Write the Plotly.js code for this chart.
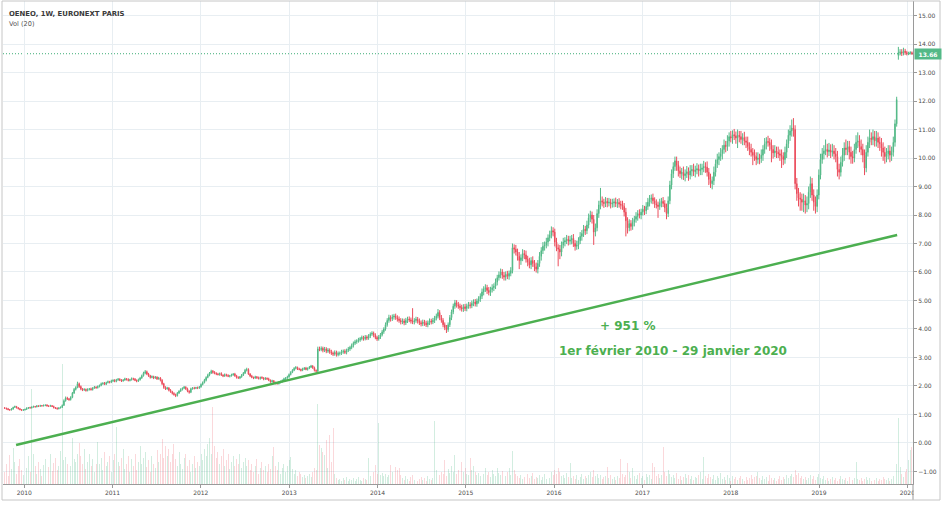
<!DOCTYPE html>
<html><head><meta charset="utf-8">
<script src="https://cdn.plot.ly/plotly-3.0.1.min.js"></script>
<style>html,body{margin:0;padding:0;background:#fff;overflow:hidden}#chart{width:943px;height:509px}</style>
</head><body><div id="chart"></div>
<script>
const firstWeek = '2009-10-12';
const weekOpen = [
1.23,1.22,1.20,1.17,1.16,1.19,1.25,1.28,1.24,1.20,
1.17,1.15,1.16,1.18,1.22,1.24,1.23,1.26,1.28,1.27,
1.30,1.29,1.31,1.30,1.32,1.33,1.30,1.29,1.31,1.28,
1.24,1.22,1.20,1.23,1.25,1.32,1.48,1.58,1.55,1.52,
1.60,1.75,1.88,1.95,2.08,1.98,1.90,1.86,1.88,1.84,
1.88,1.90,1.87,1.93,1.96,1.94,1.98,2.02,2.08,2.10,
2.06,2.12,2.15,2.13,2.18,2.20,2.16,2.22,2.24,2.20,
2.18,2.21,2.25,2.23,2.19,2.22,2.26,2.24,2.20,2.17,
2.22,2.28,2.36,2.45,2.50,2.42,2.36,2.30,2.33,2.28,
2.31,2.25,2.28,2.20,2.08,1.95,1.90,1.93,1.85,1.80,
1.74,1.70,1.66,1.75,1.82,1.88,1.92,1.96,1.90,1.82,
1.78,1.90,1.93,1.92,1.94,1.93,1.97,2.05,2.12,2.20,
2.30,2.38,2.45,2.52,2.48,2.45,2.42,2.40,2.44,2.38,
2.35,2.40,2.37,2.34,2.36,2.39,2.42,2.36,2.30,2.28,
2.32,2.38,2.45,2.55,2.58,2.42,2.35,2.30,2.28,2.32,
2.29,2.26,2.30,2.28,2.24,2.27,2.25,2.20,2.15,2.18,
2.12,2.10,2.08,2.13,2.15,2.20,2.25,2.28,2.32,2.40,
2.48,2.55,2.62,2.65,2.60,2.58,2.55,2.60,2.63,2.58,
2.62,2.66,2.70,2.64,2.55,2.52,3.30,3.28,3.32,3.25,
3.30,3.22,3.26,3.20,3.15,3.12,3.18,3.10,3.14,3.15,
3.20,3.22,3.18,3.25,3.30,3.35,3.42,3.50,3.55,3.58,
3.62,3.66,3.70,3.66,3.72,3.68,3.75,3.82,3.85,3.78,
3.70,3.65,3.72,3.80,3.90,4.00,4.15,4.30,4.40,4.36,
4.42,4.45,4.40,4.35,4.30,4.25,4.28,4.22,4.30,4.35,
4.32,4.28,4.25,4.30,4.34,4.28,4.22,4.18,4.24,4.20,
4.15,4.22,4.28,4.25,4.30,4.38,4.45,4.58,4.40,4.30,
4.15,4.05,3.98,4.15,4.40,4.60,4.80,4.92,4.85,4.80,
4.75,4.70,4.78,4.72,4.80,4.85,4.82,4.90,4.95,4.88,
4.98,5.05,5.15,5.30,5.40,5.45,5.35,5.28,5.38,5.45,
5.50,5.65,5.80,5.90,6.00,5.88,5.82,5.92,5.85,5.95,
6.05,6.85,6.80,6.70,6.55,6.40,6.50,6.65,6.60,6.45,
6.35,6.25,6.40,6.30,6.18,6.10,6.30,6.55,6.75,6.90,
6.95,7.05,7.20,7.30,7.45,7.40,7.05,6.85,6.80,6.70,
6.95,7.05,7.10,7.15,7.08,7.12,7.18,7.00,6.90,6.95,
7.10,7.25,7.35,7.50,7.45,7.65,7.90,8.00,7.85,7.40,
7.55,8.05,8.35,8.50,8.45,8.40,8.48,8.42,8.45,8.38,
8.42,8.46,8.40,8.44,8.38,8.35,8.30,8.10,7.80,7.55,
7.70,7.60,7.75,7.85,7.95,8.05,8.00,8.10,8.20,8.15,
8.30,8.45,8.55,8.60,8.50,8.40,8.35,8.30,8.42,8.48,
8.40,8.25,8.05,8.50,9.05,9.45,9.70,9.90,9.75,9.55,
9.45,9.50,9.38,9.45,9.52,9.40,9.55,9.60,9.52,9.58,
9.62,9.55,9.60,9.65,9.70,9.68,9.50,9.25,9.10,9.20,
9.50,9.80,9.95,10.05,10.15,10.30,10.45,10.40,10.60,10.75,
10.70,10.82,10.78,10.70,10.80,10.75,10.65,10.72,10.60,10.55,
10.40,10.30,10.20,10.10,10.05,9.95,10.00,9.98,10.10,10.30,
10.50,10.58,10.55,10.45,10.30,10.18,10.25,10.20,10.15,10.10,
10.05,9.95,10.20,10.50,10.80,10.95,11.05,11.00,9.10,8.75,
8.60,8.55,8.45,8.50,8.35,8.40,8.80,9.10,8.70,8.45,
8.30,8.70,9.40,9.95,10.15,10.25,10.30,10.22,10.28,10.20,
10.25,10.15,10.05,9.60,9.50,9.85,10.10,10.35,10.30,10.40,
10.20,10.05,10.00,10.30,10.55,10.60,10.40,10.30,10.10,9.65,
10.20,10.55,10.70,10.65,10.75,10.60,10.70,10.55,10.50,10.35,
10.20,10.05,10.15,10.25,10.10,10.20,10.55,11.20,13.60,13.70,
13.72,13.68,13.75,13.70,13.66,13.68,13.70];
const weekHigh = [
1.26,1.24,1.23,1.19,1.22,1.27,1.31,1.30,1.26,1.23,
1.19,1.19,1.20,1.25,1.26,1.27,1.28,1.31,1.30,1.33,
1.32,1.34,1.33,1.35,1.35,1.36,1.32,1.34,1.33,1.31,
1.26,1.25,1.25,1.28,1.35,1.53,1.63,1.62,1.58,1.64,
1.79,1.93,1.99,2.15,2.12,2.02,1.93,1.92,1.91,1.92,
1.93,1.94,1.96,2.00,1.99,2.02,2.05,2.12,2.13,2.14,
2.15,2.19,2.18,2.22,2.23,2.24,2.25,2.28,2.27,2.24,
2.24,2.29,2.28,2.27,2.25,2.30,2.29,2.28,2.23,2.26,
2.32,2.40,2.50,2.56,2.54,2.46,2.39,2.37,2.36,2.35,
2.34,2.32,2.31,2.24,2.11,1.99,1.97,1.96,1.89,1.83,
1.78,1.73,1.79,1.85,1.92,1.95,2.00,1.99,1.94,1.85,
1.94,1.96,1.97,1.97,1.98,2.00,2.09,2.16,2.25,2.34,
2.43,2.49,2.57,2.56,2.52,2.48,2.46,2.47,2.48,2.41,
2.44,2.43,2.41,2.39,2.43,2.45,2.46,2.39,2.34,2.35,
2.42,2.49,2.60,2.64,2.62,2.45,2.39,2.33,2.36,2.35,
2.33,2.33,2.34,2.31,2.31,2.30,2.29,2.23,2.22,2.21,
2.15,2.14,2.16,2.19,2.23,2.29,2.31,2.36,2.44,2.52,
2.59,2.66,2.70,2.68,2.64,2.61,2.64,2.66,2.67,2.65,
2.70,2.74,2.73,2.68,2.58,3.38,3.38,3.39,3.38,3.37,
3.36,3.33,3.32,3.27,3.21,3.25,3.24,3.21,3.21,3.27,
3.28,3.29,3.31,3.37,3.41,3.49,3.56,3.62,3.64,3.69,
3.72,3.77,3.76,3.79,3.78,3.82,3.88,3.92,3.91,3.85,
3.76,3.79,3.86,3.97,4.06,4.23,4.38,4.50,4.48,4.51,
4.53,4.54,4.48,4.44,4.38,4.37,4.36,4.39,4.43,4.44,
4.40,4.73,4.38,4.43,4.42,4.37,4.30,4.33,4.32,4.29,
4.30,4.37,4.36,4.39,4.46,4.54,4.70,4.66,4.49,4.38,
4.23,4.14,4.23,4.49,4.68,4.89,5.02,5.01,4.95,4.89,
4.85,4.87,4.88,4.89,4.95,4.94,5.00,5.04,5.05,5.07,
5.15,5.25,5.42,5.50,5.57,5.55,5.47,5.48,5.57,5.60,
5.77,5.90,6.02,6.12,6.10,6.00,6.02,6.04,6.05,6.17,
7.00,6.97,6.95,6.82,6.70,6.62,6.80,6.77,6.75,6.57,
6.50,6.52,6.55,6.42,6.33,6.42,6.70,6.87,7.05,7.07,
7.20,7.32,7.45,7.60,7.57,7.52,7.20,6.97,6.95,7.07,
7.20,7.22,7.30,7.27,7.27,7.30,7.33,7.12,7.10,7.22,
7.40,7.47,7.65,7.62,7.80,8.05,8.15,8.12,8.00,7.70,
8.20,8.50,8.95,8.65,8.57,8.63,8.60,8.60,8.57,8.57,
8.58,8.61,8.56,8.59,8.50,8.50,8.42,8.25,7.92,7.85,
7.82,7.90,7.97,8.10,8.17,8.20,8.22,8.35,8.32,8.45,
8.60,8.70,8.72,8.75,8.62,8.55,8.47,8.57,8.60,8.63,
8.52,8.40,8.65,9.20,9.60,9.85,10.05,10.05,9.90,9.70,
9.65,9.70,9.60,9.72,9.67,9.75,9.75,9.80,9.73,9.82,
9.77,9.80,9.80,9.90,9.85,9.88,9.65,9.45,9.35,9.70,
9.95,10.15,10.20,10.35,10.45,10.65,10.60,10.80,10.90,10.95,
10.97,11.02,10.93,11.00,10.95,10.95,10.87,10.92,10.75,10.75,
10.55,10.50,10.35,10.30,10.20,10.20,10.15,10.30,10.45,10.70,
10.73,10.78,10.70,10.65,10.45,10.45,10.40,10.40,10.30,10.30,
10.20,10.40,10.65,11.00,11.15,11.35,11.40,11.15,9.30,8.95,
8.80,8.75,8.75,8.70,8.65,9.00,9.35,9.30,8.90,8.65,
8.90,9.60,10.15,10.35,10.45,10.65,10.50,10.53,10.48,10.50,
10.45,10.35,10.25,9.80,10.05,10.35,10.55,10.65,10.60,10.60,
10.40,10.25,10.50,10.80,10.90,10.80,10.65,10.50,10.30,10.45,
10.75,11.00,10.90,11.00,10.95,10.95,10.90,10.75,10.70,10.55,
10.40,10.35,10.45,10.45,10.40,10.75,11.35,12.15,13.90,13.82,
13.82,13.87,13.83,13.76,13.73,13.75,13.74];
const weekLow = [
1.20,1.17,1.15,1.13,1.14,1.17,1.23,1.21,1.18,1.15,
1.12,1.13,1.14,1.16,1.19,1.21,1.21,1.24,1.24,1.25,
1.26,1.27,1.28,1.28,1.29,1.28,1.26,1.27,1.26,1.21,
1.19,1.17,1.18,1.21,1.23,1.30,1.45,1.51,1.48,1.49,
1.57,1.72,1.84,1.92,1.93,1.85,1.82,1.83,1.80,1.81,
1.84,1.84,1.84,1.90,1.90,1.91,1.95,1.99,2.04,2.03,
2.03,2.09,2.09,2.10,2.14,2.13,2.13,2.18,2.17,2.14,
2.15,2.18,2.19,2.16,2.16,2.19,2.20,2.17,2.13,2.14,
2.19,2.25,2.33,2.41,2.38,2.32,2.26,2.27,2.24,2.25,
2.21,2.22,2.16,2.03,1.90,1.86,1.87,1.81,1.76,1.70,
1.66,1.61,1.63,1.72,1.79,1.84,1.89,1.86,1.78,1.73,
1.75,1.87,1.88,1.89,1.89,1.90,1.94,2.02,2.09,2.16,
2.27,2.34,2.42,2.43,2.41,2.38,2.37,2.36,2.35,2.31,
2.32,2.33,2.31,2.30,2.33,2.36,2.32,2.26,2.25,2.24,
2.29,2.35,2.42,2.51,2.39,2.31,2.27,2.24,2.25,2.25,
2.23,2.22,2.25,2.20,2.21,2.21,2.17,2.11,2.12,2.08,
2.06,2.05,2.05,2.09,2.12,2.17,2.21,2.25,2.29,2.37,
2.45,2.52,2.58,2.56,2.55,2.51,2.52,2.56,2.55,2.54,
2.59,2.63,2.60,2.51,2.47,2.49,3.22,3.22,3.18,3.19,
3.15,3.16,3.13,3.09,3.05,3.06,3.03,3.04,3.07,3.09,
3.13,3.12,3.11,3.19,3.23,3.29,3.35,3.44,3.48,3.52,
3.55,3.60,3.59,3.60,3.61,3.62,3.68,3.76,3.71,3.64,
3.58,3.59,3.65,3.74,3.83,3.94,4.08,4.22,4.26,4.28,
4.33,4.32,4.26,4.22,4.16,4.17,4.13,4.14,4.21,4.24,
4.19,4.17,4.16,4.22,4.19,4.14,4.09,4.10,4.11,4.07,
4.06,4.14,4.16,4.17,4.21,4.30,4.37,4.31,4.22,4.06,
3.96,3.86,3.90,4.07,4.31,4.52,4.71,4.75,4.71,4.65,
4.61,4.60,4.63,4.62,4.71,4.72,4.73,4.80,4.79,4.78,
4.89,4.95,5.05,5.18,5.30,5.23,5.18,5.16,5.28,5.33,
5.40,5.53,5.70,5.78,5.76,5.70,5.70,5.75,5.73,5.85,
5.95,6.65,6.58,6.40,6.10,6.25,6.38,6.45,6.33,6.20,
6.13,6.10,6.18,6.03,5.98,5.95,6.18,6.40,6.63,6.75,
6.83,6.90,7.08,7.18,7.25,6.90,6.73,6.20,6.45,6.55,
6.83,6.90,6.98,6.93,6.96,6.97,6.88,6.75,6.78,6.80,
6.98,7.10,7.23,7.30,7.33,7.53,7.75,7.70,6.95,7.25,
7.43,7.90,8.20,8.30,8.25,8.28,8.27,8.30,8.23,8.26,
8.27,8.28,8.25,8.26,8.20,8.18,7.95,7.25,7.35,7.43,
7.45,7.48,7.60,7.73,7.80,7.88,7.85,7.98,8.00,8.03,
8.18,8.30,8.40,8.38,8.25,8.23,7.90,8.18,8.27,8.28,
8.10,7.85,7.93,8.38,8.90,9.30,9.55,9.55,9.35,9.30,
9.25,9.23,9.18,9.30,9.20,9.25,9.35,9.37,9.32,9.43,
9.35,9.40,9.40,9.50,9.48,9.35,9.05,8.95,8.90,9.05,
9.35,9.65,9.75,9.90,9.95,10.15,10.20,10.25,10.40,10.55,
10.50,10.63,10.50,10.35,10.55,10.50,10.45,10.45,10.35,10.25,
10.10,10.05,9.75,9.90,9.75,9.80,9.78,9.83,9.90,10.15,
10.30,10.40,10.25,9.85,9.98,10.03,10.00,10.00,9.90,9.65,
9.75,9.80,10.00,10.35,10.60,10.75,10.75,8.90,8.50,8.30,
8.15,8.15,8.10,8.05,8.10,8.20,8.60,8.50,8.15,8.05,
8.10,8.55,9.25,9.80,9.95,10.10,10.02,10.07,10.00,10.05,
9.95,9.85,9.35,9.25,9.35,9.70,9.90,10.10,10.10,9.95,
9.80,9.80,9.85,10.15,10.35,10.20,10.10,9.85,9.40,9.50,
10.05,10.35,10.45,10.45,10.40,10.40,10.35,10.25,10.05,9.90,
9.80,9.85,9.95,9.85,9.90,10.05,10.40,11.10,13.45,13.60,
13.58,13.60,13.62,13.60,13.61,13.63,13.62];
const weekClose = [
1.22,1.20,1.17,1.16,1.19,1.25,1.28,1.24,1.20,1.17,
1.15,1.16,1.18,1.22,1.24,1.23,1.26,1.28,1.27,1.30,
1.29,1.31,1.30,1.32,1.33,1.30,1.29,1.31,1.28,1.24,
1.22,1.20,1.23,1.25,1.32,1.48,1.58,1.55,1.52,1.60,
1.75,1.88,1.95,2.08,1.98,1.90,1.86,1.88,1.84,1.88,
1.90,1.87,1.93,1.96,1.94,1.98,2.02,2.08,2.10,2.06,
2.12,2.15,2.13,2.18,2.20,2.16,2.22,2.24,2.20,2.18,
2.21,2.25,2.23,2.19,2.22,2.26,2.24,2.20,2.17,2.22,
2.28,2.36,2.45,2.50,2.42,2.36,2.30,2.33,2.28,2.31,
2.25,2.28,2.20,2.08,1.95,1.90,1.93,1.85,1.80,1.74,
1.70,1.66,1.75,1.82,1.88,1.92,1.96,1.90,1.82,1.78,
1.90,1.93,1.92,1.94,1.93,1.97,2.05,2.12,2.20,2.30,
2.38,2.45,2.52,2.48,2.45,2.42,2.40,2.44,2.38,2.35,
2.40,2.37,2.34,2.36,2.39,2.42,2.36,2.30,2.28,2.32,
2.38,2.45,2.55,2.58,2.42,2.35,2.30,2.28,2.32,2.29,
2.26,2.30,2.28,2.24,2.27,2.25,2.20,2.15,2.18,2.12,
2.10,2.08,2.13,2.15,2.20,2.25,2.28,2.32,2.40,2.48,
2.55,2.62,2.65,2.60,2.58,2.55,2.60,2.63,2.58,2.62,
2.66,2.70,2.64,2.55,2.52,3.30,3.28,3.32,3.25,3.30,
3.22,3.26,3.20,3.15,3.12,3.18,3.10,3.14,3.15,3.20,
3.22,3.18,3.25,3.30,3.35,3.42,3.50,3.55,3.58,3.62,
3.66,3.70,3.66,3.72,3.68,3.75,3.82,3.85,3.78,3.70,
3.65,3.72,3.80,3.90,4.00,4.15,4.30,4.40,4.36,4.42,
4.45,4.40,4.35,4.30,4.25,4.28,4.22,4.30,4.35,4.32,
4.28,4.25,4.30,4.34,4.28,4.22,4.18,4.24,4.20,4.15,
4.22,4.28,4.25,4.30,4.38,4.45,4.58,4.40,4.30,4.15,
4.05,3.98,4.15,4.40,4.60,4.80,4.92,4.85,4.80,4.75,
4.70,4.78,4.72,4.80,4.85,4.82,4.90,4.95,4.88,4.98,
5.05,5.15,5.30,5.40,5.45,5.35,5.28,5.38,5.45,5.50,
5.65,5.80,5.90,6.00,5.88,5.82,5.92,5.85,5.95,6.05,
6.85,6.80,6.70,6.55,6.40,6.50,6.65,6.60,6.45,6.35,
6.25,6.40,6.30,6.18,6.10,6.30,6.55,6.75,6.90,6.95,
7.05,7.20,7.30,7.45,7.40,7.05,6.85,6.80,6.70,6.95,
7.05,7.10,7.15,7.08,7.12,7.18,7.00,6.90,6.95,7.10,
7.25,7.35,7.50,7.45,7.65,7.90,8.00,7.85,7.40,7.55,
8.05,8.35,8.50,8.45,8.40,8.48,8.42,8.45,8.38,8.42,
8.46,8.40,8.44,8.38,8.35,8.30,8.10,7.80,7.55,7.70,
7.60,7.75,7.85,7.95,8.05,8.00,8.10,8.20,8.15,8.30,
8.45,8.55,8.60,8.50,8.40,8.35,8.30,8.42,8.48,8.40,
8.25,8.05,8.50,9.05,9.45,9.70,9.90,9.75,9.55,9.45,
9.50,9.38,9.45,9.52,9.40,9.55,9.60,9.52,9.58,9.62,
9.55,9.60,9.65,9.70,9.68,9.50,9.25,9.10,9.20,9.50,
9.80,9.95,10.05,10.15,10.30,10.45,10.40,10.60,10.75,10.70,
10.82,10.78,10.70,10.80,10.75,10.65,10.72,10.60,10.55,10.40,
10.30,10.20,10.10,10.05,9.95,10.00,9.98,10.10,10.30,10.50,
10.58,10.55,10.45,10.30,10.18,10.25,10.20,10.15,10.10,10.05,
9.95,10.20,10.50,10.80,10.95,11.05,11.00,9.10,8.75,8.60,
8.55,8.45,8.50,8.35,8.40,8.80,9.10,8.70,8.45,8.30,
8.70,9.40,9.95,10.15,10.25,10.30,10.22,10.28,10.20,10.25,
10.15,10.05,9.60,9.50,9.85,10.10,10.35,10.30,10.40,10.20,
10.05,10.00,10.30,10.55,10.60,10.40,10.30,10.10,9.65,10.20,
10.55,10.70,10.65,10.75,10.60,10.70,10.55,10.50,10.35,10.20,
10.05,10.15,10.25,10.10,10.20,10.55,11.20,12.05,13.70,13.72,
13.68,13.75,13.70,13.66,13.68,13.70,13.66];
const weekVolume = [
60,100,40,145,75,180,110,50,90,125,
70,45,100,80,140,60,470,150,90,50,
110,75,40,95,125,55,85,150,65,105,
130,70,90,165,595,120,135,100,150,90,
230,125,110,150,205,140,100,175,75,110,
150,90,125,60,100,210,100,130,70,160,
90,110,140,60,120,150,285,110,90,130,
175,75,100,140,60,125,90,150,70,110,
190,100,130,160,85,120,60,140,100,80,
170,110,150,225,130,190,140,175,110,150,
200,125,90,160,100,75,130,150,90,120,
60,100,140,80,110,90,150,120,175,140,
200,230,150,385,190,130,160,100,140,175,
90,120,150,75,110,140,90,125,100,150,
80,110,130,90,120,70,100,60,90,125,
50,80,110,70,90,60,100,75,140,185,
90,70,110,50,80,100,60,90,120,135,
75,50,70,40,60,50,35,45,30,40,
50,35,60,80,70,400,195,180,160,145,
220,80,245,110,280,50,30,20,25,15,
30,20,35,15,25,20,30,15,25,35,
20,15,30,25,20,130,40,30,60,95,
50,305,45,55,40,50,35,45,95,60,
40,85,70,80,45,30,20,40,25,15,
35,45,20,30,15,25,35,20,30,15,
40,25,20,30,315,70,30,45,60,50,
120,40,75,55,90,60,145,50,70,40,
110,60,80,50,45,130,70,90,60,45,
55,40,65,50,80,45,60,35,70,50,
40,80,55,45,65,50,40,60,80,45,
165,70,50,40,30,45,25,35,70,50,
30,40,55,25,35,30,45,20,35,50,
25,40,30,60,45,70,50,80,60,40,
45,30,55,35,105,30,40,25,45,20,
35,50,25,40,30,45,60,35,70,40,
50,30,45,25,35,40,85,30,45,25,
35,20,40,30,125,50,35,45,105,60,
30,80,40,25,45,55,30,40,20,50,
35,45,25,105,85,40,50,30,45,185,
60,40,70,50,35,45,30,55,25,40,
20,35,50,30,45,25,40,20,35,30,
45,60,25,135,40,30,50,35,25,45,
20,40,30,55,25,35,20,45,30,15,
40,25,35,20,30,40,25,15,35,20,
30,45,25,35,40,60,30,20,40,25,
35,15,45,30,20,30,15,25,40,20,
35,25,45,30,40,50,35,70,45,55,
30,40,25,35,20,30,45,25,40,20,
35,50,30,25,40,20,30,15,25,35,
20,30,15,25,40,25,20,30,15,35,
25,20,30,110,25,20,30,15,25,35,
20,30,15,25,20,30,15,25,20,35,
25,20,30,15,25,40,65,100,330,85,
50,35,60,75,120,170,185];
const trendDates = ['2009-11-28', '2019-11-20'];
const trendValues = [-0.07, 7.30];
const yearTicks = ['2010-01-01','2011-01-01','2012-01-01','2013-01-01','2014-01-01','2015-01-01','2016-01-01','2017-01-01','2018-01-01','2019-01-01','2020-01-01'];
const yearLabels = ['2010','2011','2012','2013','2014','2015','2016','2017','2018','2019','2020'];
const priceTicks = [-1,0,1,2,3,4,5,6,7,8,9,10,11,12,13,14,15];
const headerLines = ['OENEO, 1W, EURONEXT PARIS', 'Vol (20)'];
const perfLabel = '+ 951 %';
const periodLabel = '1er février 2010 - 29 janvier 2020';

const weekDates = weekClose.map((_, i) => {
  const d = new Date(firstWeek + 'T00:00:00Z');
  d.setUTCDate(d.getUTCDate() + 7 * i);
  return d.toISOString().slice(0, 10);
});
const UP = '#53b987', DOWN = '#eb4d5c', TREND = '#4caf50';
const volColors = weekClose.map((c, i) => c >= weekOpen[i] ? 'rgba(83,185,135,0.26)' : 'rgba(235,77,92,0.22)');
const lastClose = weekClose[weekClose.length - 1];

const W = 943, H = 509, ML = 3, MR = 30, MT = 1, MB = 25;
const PW = W - ML - MR, PH = H - MT - MB;
const fx = x => (x - ML) / PW;
const fy = y => (H - MB - y) / PH;
const FONT = 'DejaVu Sans, Verdana, sans-serif';

const traces = [
  { type: 'bar', x: weekDates, y: weekVolume, xaxis: 'x', yaxis: 'y',
    marker: { color: volColors, line: { width: 0 } }, width: 4 * 86400000, hoverinfo: 'skip', showlegend: false },
  { type: 'candlestick', x: weekDates, open: weekOpen, high: weekHigh, low: weekLow, close: weekClose,
    xaxis: 'x', yaxis: 'y2', whiskerwidth: 0,
    increasing: { line: { color: UP, width: 1 }, fillcolor: UP },
    decreasing: { line: { color: DOWN, width: 1 }, fillcolor: DOWN },
    hoverinfo: 'skip', showlegend: false },
  { type: 'scatter', mode: 'lines', x: trendDates, y: trendValues, xaxis: 'x', yaxis: 'y2',
    line: { color: TREND, width: 2.5 }, hoverinfo: 'skip', showlegend: false }
];

const layout = {
  width: W, height: H,
  margin: { l: ML, r: MR, t: MT, b: MB, pad: 0 },
  paper_bgcolor: '#ffffff', plot_bgcolor: '#ffffff',
  showlegend: false, hovermode: false, boxgap: 0.5, bargap: 0,
  font: { family: FONT, size: 6, color: '#4d4d4d' },
  xaxis: {
    type: 'date', range: ['2009-10-05', '2020-01-24 12:00'],
    tickmode: 'array', tickvals: yearTicks, ticktext: yearLabels,
    showgrid: true, gridcolor: '#e8eef2', gridwidth: 1,
    showline: true, linecolor: '#9a9a9a', linewidth: 1,
    ticks: 'outside', ticklen: 3, tickcolor: '#9a9a9a',
    tickfont: { family: FONT, size: 6, color: '#4d4d4d' },
    zeroline: false, rangeslider: { visible: false }, fixedrange: true
  },
  yaxis: { range: [0, 2400], visible: false, fixedrange: true, showgrid: false, zeroline: false },
  yaxis2: {
    overlaying: 'y', side: 'right', range: [-1.44, 15.51],
    tickmode: 'array', tickvals: priceTicks, tickformat: '.2f',
    showgrid: true, gridcolor: '#e8eef2', gridwidth: 1,
    showline: true, linecolor: '#9a9a9a', linewidth: 1,
    ticks: 'outside', ticklen: 3, tickcolor: '#9a9a9a',
    tickfont: { family: FONT, size: 6, color: '#4d4d4d' },
    zeroline: false, fixedrange: true
  },
  shapes: [
    { type: 'line', xref: 'paper', yref: 'y2', x0: 0, x1: 1, y0: lastClose, y1: lastClose,
      line: { color: '#3fae78', width: 1, dash: '1px,2px' }, layer: 'below' },
    { type: 'rect', xref: 'paper', yref: 'paper', x0: fx(913.6), x1: fx(939.5), y0: fy(499.5), y1: fy(484.6),
      fillcolor: '#ffffff', line: { width: 0 }, layer: 'above' },
    { type: 'line', xref: 'paper', yref: 'paper', x0: fx(913), x1: fx(913), y0: fy(500), y1: fy(484),
      line: { color: '#9a9a9a', width: 1 }, layer: 'above' },
    { type: 'rect', xref: 'paper', yref: 'paper', x0: fx(2), x1: fx(940), y0: fy(500), y1: fy(1),
      line: { color: '#c6c6c6', width: 1 }, fillcolor: 'rgba(0,0,0,0)', layer: 'above' }
  ],
  annotations: [
    { xref: 'paper', yref: 'paper', x: fx(7), y: fy(14.5), xanchor: 'left', yanchor: 'middle', showarrow: false,
      text: '<b>' + headerLines[0] + '</b>', font: { family: FONT, size: 6.9, color: '#3a3a3a' } },
    { xref: 'paper', yref: 'paper', x: fx(7), y: fy(24.5), xanchor: 'left', yanchor: 'middle', showarrow: false,
      text: headerLines[1], font: { family: FONT, size: 6.6, color: '#555555' } },
    { xref: 'paper', yref: 'paper', x: fx(627.5), y: fy(326), xanchor: 'center', yanchor: 'middle', showarrow: false,
      text: '<b>' + perfLabel + '</b>', font: { family: FONT, size: 12, color: TREND } },
    { xref: 'paper', yref: 'paper', x: fx(672.5), y: fy(351), xanchor: 'center', yanchor: 'middle', showarrow: false,
      text: '<b>' + periodLabel + '</b>', font: { family: FONT, size: 12, color: TREND } },
    { xref: 'paper', yref: 'y2', x: 1, y: lastClose, xanchor: 'left', yanchor: 'middle', xshift: 1, showarrow: false,
      text: '<b>' + lastClose.toFixed(2) + '</b>', bgcolor: UP, borderpad: 1, width: 24, height: 8,
      font: { family: FONT, size: 6, color: '#ffffff' } }
  ]
};

Plotly.newPlot('chart', traces, layout, { staticPlot: true, displayModeBar: false, responsive: false });
</script>
</body></html>
